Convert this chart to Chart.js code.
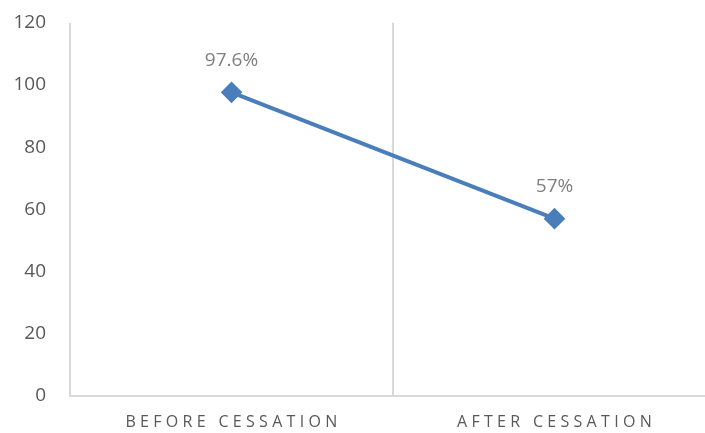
<!DOCTYPE html>
<html>
<head>
<meta charset="utf-8">
<script src="https://cdn.jsdelivr.net/npm/chart.js@4/dist/chart.umd.min.js"></script>
<style>
  html, body { margin: 0; padding: 0; background: #fff; overflow: hidden; }
  #wrap { width: 705px; height: 433px; overflow: hidden; }
  canvas { display: block; }
</style>
</head>
<body>
<div id="wrap"><canvas id="c" width="728" height="433" style="width:728px;height:433px"></canvas></div>
<script>
const categories = ['BEFORE CESSATION', 'AFTER CESSATION'];
const values = [97.6, 57];
const valueLabels = ['97.6%', '57%'];
const yTicks = [0, 20, 40, 60, 80, 100, 120];

const LINE_BLUE = '#4a7ebb';
const GRID = '#d9d9d9';
const TEXT = '#595959';

// Category labels drawn with letter spacing, positioned by the x scale
const spacedCategoryLabels = {
  id: 'spacedCategoryLabels',
  afterDraw(chart) {
    const ctx = chart.ctx;
    const x = chart.scales.x;
    ctx.save();
    ctx.font = '16px "Open Sans"';
    ctx.fillStyle = TEXT;
    ctx.textAlign = 'center';
    ctx.textBaseline = 'middle';
    ctx.letterSpacing = '4.3px';
    categories.forEach((c, i) => {
      ctx.fillText(c, x.getPixelForTick(i) + 2, x.top + 26);
    });
    ctx.restore();
  }
};

// Value labels above each point
const valueLabelPlugin = {
  id: 'valueLabelPlugin',
  afterDatasetsDraw(chart) {
    const ctx = chart.ctx;
    const meta = chart.getDatasetMeta(0);
    ctx.save();
    ctx.font = '19px "Open Sans"';
    ctx.fillStyle = '#7f7f7f';
    ctx.textAlign = 'center';
    ctx.textBaseline = 'middle';
    meta.data.forEach((pt, i) => {
      ctx.fillText(valueLabels[i], pt.x, pt.y - 32);
    });
    ctx.restore();
  }
};

new Chart(document.getElementById('c'), {
  type: 'line',
  data: {
    labels: categories,
    datasets: [{
      data: values,
      borderColor: LINE_BLUE,
      backgroundColor: LINE_BLUE,
      borderWidth: 4,
      pointStyle: 'rectRot',
      pointRadius: 8,
      pointHoverRadius: 8,
      tension: 0
    }]
  },
  options: {
    responsive: false,
    animation: false,
    layout: { padding: { top: 9, right: 0, left: 0, bottom: 0 } },
    plugins: { legend: { display: false }, tooltip: { enabled: false } },
    scales: {
      x: {
        offset: true,
        grid: { display: true, offset: true, color: GRID, lineWidth: 2, drawTicks: false },
        border: { display: true, color: GRID, width: 2 },
        ticks: { display: false },
        afterFit(s) { s.height = 37; }
      },
      y: {
        min: 0,
        max: 120,
        afterBuildTicks(s) { s.ticks = yTicks.map(v => ({ value: v })); },
        grid: { display: false },
        border: { display: false },
        ticks: { color: TEXT, padding: 16, font: { size: 19, family: 'Open Sans', lineHeight: 0.7 } },
        afterFit(s) { s.width = 70; }
      }
    }
  },
  plugins: [spacedCategoryLabels, valueLabelPlugin]
});
</script>
</body>
</html>
